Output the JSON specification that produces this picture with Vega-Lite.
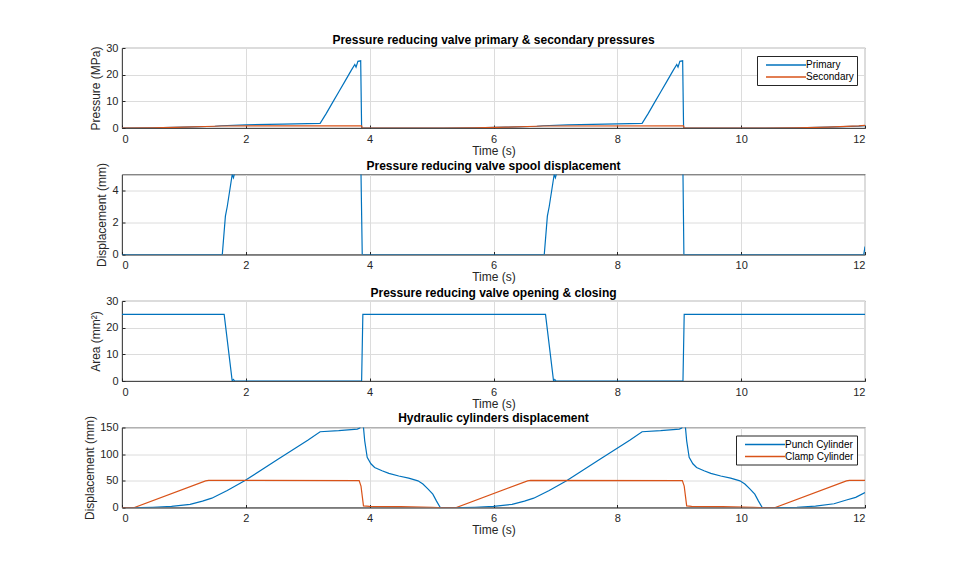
{
  "$schema": "https://vega.github.io/schema/vega-lite/v6.json",
  "background": "white",
  "padding": {"left": 83, "top": 33, "right": 5, "bottom": 5},
  "spacing": 46.5,
  "bounds": "flush",
  "config": {
    "font": "Liberation Sans",
    "view": {"stroke": "#262626", "strokeWidth": 0.8},
    "axis": {
      "domainColor": "#262626",
      "tickColor": "#262626",
      "labelColor": "#262626",
      "titleColor": "#262626",
      "gridColor": "#dcdcdc",
      "labelFontSize": 11,
      "titleFontSize": 12,
      "titleFontWeight": "normal",
      "tickSize": -3,
      "domainWidth": 0.8
    },
    "axisX": {"labelPadding": 8, "titlePadding": 1},
    "axisY": {"labelPadding": 7, "titlePadding": 3},
    "title": {"fontSize": 12, "fontWeight": "bold", "color": "#000000"},
    "legend": {
      "orient": "top-right",
      "offset": 9,
      "strokeColor": "#262626",
      "fillColor": "white",
      "padding": 3,
      "symbolType": "M0,0H8",
      "symbolSize": 100,
      "symbolStrokeWidth": 1.5,
      "symbolFillColor": "transparent",
      "labelOffset": 34,
      "labelFontSize": 10,
      "labelColor": "#000000",
      "rowPadding": 1,
      "title": null
    }
  },
  "resolve": {"scale": {"color": "independent", "x": "independent", "y": "independent"}, "legend": {"color": "independent"}},
  "vconcat": [
    {
      "title": {"text": "Pressure reducing valve primary & secondary pressures", "offset": -5},
      "width": 743,
      "height": 80,
      "data": {"values": [
        {"t": 0, "v": 0, "s": "Primary"}, {"t": 0.5, "v": 0.05, "s": "Primary"}, {"t": 1.0, "v": 0.3, "s": "Primary"}, {"t": 1.5, "v": 0.65, "s": "Primary"}, {"t": 1.6, "v": 0.85, "s": "Primary"}, {"t": 2.0, "v": 1.2, "s": "Primary"}, {"t": 2.6, "v": 1.45, "s": "Primary"}, {"t": 3.2, "v": 1.75, "s": "Primary"}, {"t": 3.3, "v": 5.5, "s": "Primary"}, {"t": 3.4, "v": 9.5, "s": "Primary"}, {"t": 3.5, "v": 13.5, "s": "Primary"}, {"t": 3.6, "v": 17.5, "s": "Primary"}, {"t": 3.7, "v": 21.5, "s": "Primary"}, {"t": 3.76, "v": 23.8, "s": "Primary"}, {"t": 3.78, "v": 22.8, "s": "Primary"}, {"t": 3.81, "v": 25, "s": "Primary"}, {"t": 3.855, "v": 25.2, "s": "Primary"}, {"t": 3.87, "v": 0, "s": "Primary"},
        {"t": 5.2, "v": 0, "s": "Primary"}, {"t": 5.7, "v": 0.05, "s": "Primary"}, {"t": 6.2, "v": 0.3, "s": "Primary"}, {"t": 6.7, "v": 0.65, "s": "Primary"}, {"t": 6.8, "v": 0.85, "s": "Primary"}, {"t": 7.2, "v": 1.2, "s": "Primary"}, {"t": 7.8, "v": 1.45, "s": "Primary"}, {"t": 8.4, "v": 1.75, "s": "Primary"}, {"t": 8.5, "v": 5.5, "s": "Primary"}, {"t": 8.6, "v": 9.5, "s": "Primary"}, {"t": 8.7, "v": 13.5, "s": "Primary"}, {"t": 8.8, "v": 17.5, "s": "Primary"}, {"t": 8.9, "v": 21.5, "s": "Primary"}, {"t": 8.96, "v": 23.8, "s": "Primary"}, {"t": 8.98, "v": 22.8, "s": "Primary"}, {"t": 9.01, "v": 25, "s": "Primary"}, {"t": 9.055, "v": 25.2, "s": "Primary"}, {"t": 9.07, "v": 0, "s": "Primary"},
        {"t": 10.4, "v": 0, "s": "Primary"}, {"t": 10.9, "v": 0.05, "s": "Primary"}, {"t": 11.4, "v": 0.3, "s": "Primary"}, {"t": 11.9, "v": 0.7, "s": "Primary"}, {"t": 12, "v": 0.9, "s": "Primary"},
        {"t": 0, "v": 0, "s": "Secondary"}, {"t": 0.5, "v": 0.05, "s": "Secondary"}, {"t": 1.0, "v": 0.3, "s": "Secondary"}, {"t": 1.5, "v": 0.65, "s": "Secondary"}, {"t": 1.6, "v": 0.75, "s": "Secondary"}, {"t": 3.87, "v": 0.8, "s": "Secondary"}, {"t": 3.88, "v": 0, "s": "Secondary"},
        {"t": 5.2, "v": 0, "s": "Secondary"}, {"t": 5.7, "v": 0.05, "s": "Secondary"}, {"t": 6.2, "v": 0.3, "s": "Secondary"}, {"t": 6.7, "v": 0.65, "s": "Secondary"}, {"t": 6.8, "v": 0.75, "s": "Secondary"}, {"t": 9.07, "v": 0.8, "s": "Secondary"}, {"t": 9.08, "v": 0, "s": "Secondary"},
        {"t": 10.4, "v": 0, "s": "Secondary"}, {"t": 10.9, "v": 0.05, "s": "Secondary"}, {"t": 11.4, "v": 0.35, "s": "Secondary"}, {"t": 11.9, "v": 0.8, "s": "Secondary"}, {"t": 12, "v": 1.0, "s": "Secondary"}
      ]},
      "mark": {"type": "line", "clip": true, "strokeWidth": 1.2},
      "encoding": {
        "x": {"field": "t", "type": "quantitative", "scale": {"domain": [0, 12], "nice": false}, "axis": {"title": "Time (s)", "values": [0, 2, 4, 6, 8, 10, 12]}},
        "y": {"field": "v", "type": "quantitative", "scale": {"domain": [0, 30], "nice": false}, "axis": {"title": "Pressure (MPa)", "values": [0, 10, 20, 30]}},
        "color": {"field": "s", "type": "nominal", "scale": {"domain": ["Primary", "Secondary"], "range": ["#0072BD", "#D95319"]}, "legend": {"offset": 8}}
      }
    },
    {
      "title": {"text": "Pressure reducing valve spool displacement", "offset": -11},
      "width": 743,
      "height": 80,
      "data": {"values": [
        {"t": 0, "d": 0}, {"t": 1.62, "d": 0}, {"t": 1.67, "d": 2.4}, {"t": 1.7, "d": 3.0}, {"t": 1.78, "d": 5}, {"t": 1.8, "d": 4.8}, {"t": 1.82, "d": 5.1}, {"t": 3.86, "d": 5.1}, {"t": 3.88, "d": 0},
        {"t": 6.82, "d": 0}, {"t": 6.87, "d": 2.4}, {"t": 6.9, "d": 3.0}, {"t": 6.98, "d": 5}, {"t": 7.0, "d": 4.8}, {"t": 7.02, "d": 5.1}, {"t": 9.06, "d": 5.1}, {"t": 9.075, "d": 0},
        {"t": 11.98, "d": 0}, {"t": 12, "d": 0.5}
      ]},
      "mark": {"type": "line", "color": "#0072BD", "clip": true, "strokeWidth": 1.2},
      "encoding": {
        "x": {"field": "t", "type": "quantitative", "scale": {"domain": [0, 12], "nice": false}, "axis": {"title": "Time (s)", "values": [0, 2, 4, 6, 8, 10, 12]}},
        "y": {"field": "d", "type": "quantitative", "scale": {"domain": [0, 5], "nice": false}, "axis": {"title": "Displacement (mm)", "values": [0, 2, 4]}}
      }
    },
    {
      "title": {"text": "Pressure reducing valve opening & closing", "offset": -5},
      "width": 743,
      "height": 80,
      "data": {"values": [
        {"t": 0, "a": 25}, {"t": 1.65, "a": 25}, {"t": 1.78, "a": 0}, {"t": 1.8, "a": 0.6}, {"t": 1.82, "a": 0}, {"t": 3.87, "a": 0}, {"t": 3.89, "a": 25},
        {"t": 6.84, "a": 25}, {"t": 6.97, "a": 0}, {"t": 6.99, "a": 0.6}, {"t": 7.01, "a": 0}, {"t": 9.06, "a": 0}, {"t": 9.08, "a": 25}, {"t": 12, "a": 25}
      ]},
      "mark": {"type": "line", "color": "#0072BD", "clip": true, "strokeWidth": 1.2},
      "encoding": {
        "x": {"field": "t", "type": "quantitative", "scale": {"domain": [0, 12], "nice": false}, "axis": {"title": "Time (s)", "values": [0, 2, 4, 6, 8, 10, 12]}},
        "y": {"field": "a", "type": "quantitative", "scale": {"domain": [0, 30], "nice": false}, "axis": {"title": "Area (mm²)", "values": [0, 10, 20, 30]}}
      }
    },
    {
      "title": {"text": "Hydraulic cylinders displacement", "offset": -10},
      "width": 743,
      "height": 80,
      "data": {"values": [
        {"t": 0, "x": 0, "c": "Punch Cylinder"}, {"t": 0.3, "x": 0, "c": "Punch Cylinder"}, {"t": 0.5, "x": 0.5, "c": "Punch Cylinder"}, {"t": 0.8, "x": 2, "c": "Punch Cylinder"}, {"t": 1.1, "x": 6, "c": "Punch Cylinder"}, {"t": 1.3, "x": 12, "c": "Punch Cylinder"}, {"t": 1.45, "x": 17.5, "c": "Punch Cylinder"}, {"t": 1.7, "x": 32, "c": "Punch Cylinder"}, {"t": 1.98, "x": 50, "c": "Punch Cylinder"}, {"t": 2.5, "x": 89, "c": "Punch Cylinder"}, {"t": 3.0, "x": 126, "c": "Punch Cylinder"}, {"t": 3.2, "x": 142, "c": "Punch Cylinder"}, {"t": 3.5, "x": 144, "c": "Punch Cylinder"}, {"t": 3.8, "x": 147, "c": "Punch Cylinder"}, {"t": 3.84, "x": 149, "c": "Punch Cylinder"}, {"t": 3.87, "x": 160, "c": "Punch Cylinder"}, {"t": 3.9, "x": 150, "c": "Punch Cylinder"}, {"t": 3.92, "x": 125, "c": "Punch Cylinder"}, {"t": 3.96, "x": 94, "c": "Punch Cylinder"}, {"t": 4.02, "x": 82, "c": "Punch Cylinder"}, {"t": 4.08, "x": 75, "c": "Punch Cylinder"}, {"t": 4.2, "x": 69, "c": "Punch Cylinder"}, {"t": 4.31, "x": 64, "c": "Punch Cylinder"}, {"t": 4.47, "x": 59, "c": "Punch Cylinder"}, {"t": 4.63, "x": 55, "c": "Punch Cylinder"}, {"t": 4.78, "x": 50, "c": "Punch Cylinder"}, {"t": 4.86, "x": 44, "c": "Punch Cylinder"}, {"t": 4.94, "x": 35, "c": "Punch Cylinder"}, {"t": 5.02, "x": 25, "c": "Punch Cylinder"}, {"t": 5.08, "x": 12, "c": "Punch Cylinder"}, {"t": 5.14, "x": 0, "c": "Punch Cylinder"},
        {"t": 5.5, "x": 0, "c": "Punch Cylinder"}, {"t": 5.7, "x": 0.5, "c": "Punch Cylinder"}, {"t": 6.0, "x": 2, "c": "Punch Cylinder"}, {"t": 6.3, "x": 6, "c": "Punch Cylinder"}, {"t": 6.5, "x": 12, "c": "Punch Cylinder"}, {"t": 6.65, "x": 17.5, "c": "Punch Cylinder"}, {"t": 6.9, "x": 32, "c": "Punch Cylinder"}, {"t": 7.18, "x": 50, "c": "Punch Cylinder"}, {"t": 7.7, "x": 89, "c": "Punch Cylinder"}, {"t": 8.2, "x": 126, "c": "Punch Cylinder"}, {"t": 8.4, "x": 142, "c": "Punch Cylinder"}, {"t": 8.7, "x": 144, "c": "Punch Cylinder"}, {"t": 9.0, "x": 147, "c": "Punch Cylinder"}, {"t": 9.04, "x": 149, "c": "Punch Cylinder"}, {"t": 9.07, "x": 160, "c": "Punch Cylinder"}, {"t": 9.1, "x": 150, "c": "Punch Cylinder"}, {"t": 9.12, "x": 125, "c": "Punch Cylinder"}, {"t": 9.16, "x": 94, "c": "Punch Cylinder"}, {"t": 9.22, "x": 82, "c": "Punch Cylinder"}, {"t": 9.28, "x": 75, "c": "Punch Cylinder"}, {"t": 9.4, "x": 69, "c": "Punch Cylinder"}, {"t": 9.51, "x": 64, "c": "Punch Cylinder"}, {"t": 9.67, "x": 59, "c": "Punch Cylinder"}, {"t": 9.83, "x": 55, "c": "Punch Cylinder"}, {"t": 9.98, "x": 50, "c": "Punch Cylinder"}, {"t": 10.06, "x": 44, "c": "Punch Cylinder"}, {"t": 10.14, "x": 35, "c": "Punch Cylinder"}, {"t": 10.22, "x": 25, "c": "Punch Cylinder"}, {"t": 10.28, "x": 12, "c": "Punch Cylinder"}, {"t": 10.34, "x": 0, "c": "Punch Cylinder"},
        {"t": 10.7, "x": 0, "c": "Punch Cylinder"}, {"t": 10.9, "x": 0.5, "c": "Punch Cylinder"}, {"t": 11.2, "x": 2.5, "c": "Punch Cylinder"}, {"t": 11.5, "x": 7, "c": "Punch Cylinder"}, {"t": 11.7, "x": 14, "c": "Punch Cylinder"}, {"t": 11.85, "x": 19, "c": "Punch Cylinder"}, {"t": 12, "x": 28, "c": "Punch Cylinder"},
        {"t": 0, "x": 0, "c": "Clamp Cylinder"}, {"t": 0.2, "x": 0, "c": "Clamp Cylinder"}, {"t": 1.35, "x": 50, "c": "Clamp Cylinder"}, {"t": 1.4, "x": 50.8, "c": "Clamp Cylinder"}, {"t": 3.83, "x": 50.5, "c": "Clamp Cylinder"}, {"t": 3.86, "x": 40, "c": "Clamp Cylinder"}, {"t": 3.9, "x": 3, "c": "Clamp Cylinder"}, {"t": 4.0, "x": 2, "c": "Clamp Cylinder"}, {"t": 4.5, "x": 1.5, "c": "Clamp Cylinder"}, {"t": 5.0, "x": 0.5, "c": "Clamp Cylinder"}, {"t": 5.1, "x": 0, "c": "Clamp Cylinder"},
        {"t": 5.4, "x": 0, "c": "Clamp Cylinder"}, {"t": 6.55, "x": 50, "c": "Clamp Cylinder"}, {"t": 6.6, "x": 50.8, "c": "Clamp Cylinder"}, {"t": 9.05, "x": 50.5, "c": "Clamp Cylinder"}, {"t": 9.08, "x": 40, "c": "Clamp Cylinder"}, {"t": 9.12, "x": 3, "c": "Clamp Cylinder"}, {"t": 9.2, "x": 2, "c": "Clamp Cylinder"}, {"t": 9.7, "x": 1.5, "c": "Clamp Cylinder"}, {"t": 10.2, "x": 0.5, "c": "Clamp Cylinder"}, {"t": 10.3, "x": 0, "c": "Clamp Cylinder"},
        {"t": 10.55, "x": 0, "c": "Clamp Cylinder"}, {"t": 11.7, "x": 50, "c": "Clamp Cylinder"}, {"t": 11.75, "x": 50.8, "c": "Clamp Cylinder"}, {"t": 12, "x": 50.8, "c": "Clamp Cylinder"}
      ]},
      "mark": {"type": "line", "clip": true, "strokeWidth": 1.2},
      "encoding": {
        "x": {"field": "t", "type": "quantitative", "scale": {"domain": [0, 12], "nice": false}, "axis": {"title": "Time (s)", "values": [0, 2, 4, 6, 8, 10, 12]}},
        "y": {"field": "x", "type": "quantitative", "scale": {"domain": [0, 150], "nice": false}, "axis": {"title": "Displacement (mm)", "values": [0, 50, 100, 150]}},
        "color": {"field": "c", "type": "nominal", "sort": null, "scale": {"domain": ["Punch Cylinder", "Clamp Cylinder"], "range": ["#0072BD", "#D95319"]}, "legend": {"offset": 8}}
      }
    }
  ]
}
